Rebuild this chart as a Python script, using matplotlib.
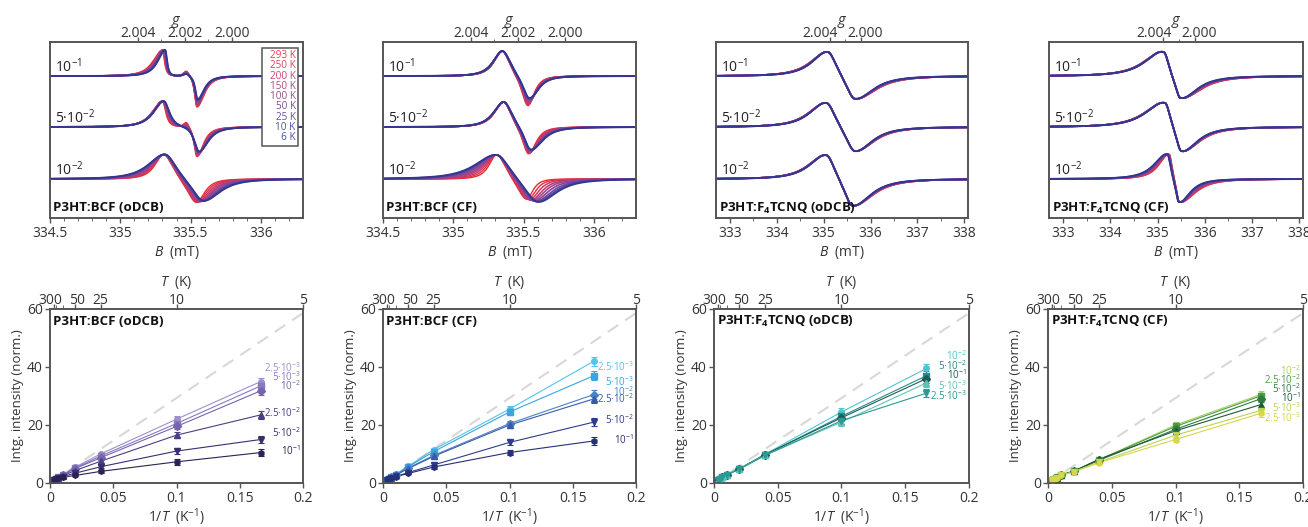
import numpy as np
import matplotlib
matplotlib.use('Agg')
import matplotlib.pyplot as plt
from matplotlib.patches import Rectangle
from matplotlib.transforms import ScaledTranslation

plt.rcParams['font.family'] = ['Open Sans', 'DejaVu Sans']
plt.rcParams['mathtext.fontset'] = 'custom'
plt.rcParams['mathtext.rm'] = 'Open Sans'
plt.rcParams['mathtext.it'] = 'Open Sans:italic'
plt.rcParams['mathtext.bf'] = 'Open Sans:bold'

# ---------------------------------------------------------------- data
temperatures_K = [293, 250, 200, 150, 100, 50, 25, 10, 6]
temp_labels = ['293 K', '250 K', '200 K', '150 K', '100 K', '50 K', '25 K', '10 K', '6 K']
# how far each temperature's spectrum sits between the 293 K and 6 K shapes
temp_mix = [0.0, 0.12, 0.25, 0.38, 0.5, 0.64, 0.78, 0.9, 1.0]
conc_top = ['10$^{-1}$', '5·10$^{-2}$', '10$^{-2}$']
titles = ['P3HT:BCF (oDCB)', 'P3HT:BCF (CF)',
          r'P3HT:F$_\mathbf{4}$TCNQ (oDCB)', r'P3HT:F$_\mathbf{4}$TCNQ (CF)']

# EPR lineshape parameters, rows: 10^-1, 5.10^-2, 10^-2
# [cP, wPL, wPR, aP, cN, wNL, wNR, aN, cM, wM, aM]  (field in mT)
bcf_odcb_293K = [[335.30, 0.10, 0.022, 1.0, 335.545, 0.025, 0.08, 1.20, 335.47, 0.03, 0.22],
                 [335.30, 0.11, 0.035, 1.0, 335.545, 0.030, 0.07, 1.15, 335.47, 0.03, 0.22],
                 [335.31, 0.095, 0.10, 1.0, 335.54, 0.10, 0.09, 0.96, 335.45, 0.03, 0.0]]
bcf_odcb_6K = [[335.32, 0.08, 0.020, 1.0, 335.55, 0.025, 0.07, 0.90, 335.47, 0.03, 0.10],
               [335.31, 0.11, 0.060, 1.0, 335.56, 0.050, 0.10, 0.95, 335.47, 0.03, 0.0],
               [335.32, 0.18, 0.12, 1.0, 335.59, 0.12, 0.18, 0.90, 335.45, 0.03, 0.0]]
bcf_cf_293K = [[335.35, 0.09, 0.08, 1.0, 335.53, 0.065, 0.07, 1.20, 335.45, 0.03, 0.0],
               [335.36, 0.10, 0.08, 1.0, 335.535, 0.065, 0.08, 1.10, 335.45, 0.03, 0.0],
               [335.31, 0.083, 0.10, 1.0, 335.52, 0.10, 0.07, 0.85, 335.45, 0.03, 0.0]]
bcf_cf_6K = [[335.35, 0.10, 0.09, 1.0, 335.54, 0.07, 0.10, 0.92, 335.45, 0.03, 0.0],
             [335.36, 0.11, 0.09, 1.0, 335.55, 0.07, 0.13, 0.94, 335.45, 0.03, 0.0],
             [335.31, 0.23, 0.14, 1.0, 335.60, 0.14, 0.20, 0.96, 335.45, 0.03, 0.0]]
f4_odcb_293K = [[335.09, 0.55, 0.27, 1.0, 335.66, 0.27, 0.68, 0.95, 335.4, 0.1, 0.0],
                [335.06, 0.57, 0.28, 1.0, 335.66, 0.28, 0.62, 1.00, 335.4, 0.1, 0.0],
                [335.06, 0.57, 0.26, 1.0, 335.61, 0.26, 0.66, 1.10, 335.4, 0.1, 0.0]]
f4_odcb_6K = [[335.09, 0.50, 0.27, 1.0, 335.66, 0.27, 0.58, 0.95, 335.4, 0.1, 0.0],
              [335.06, 0.53, 0.28, 1.0, 335.66, 0.28, 0.55, 1.00, 335.4, 0.1, 0.0],
              [335.06, 0.53, 0.26, 1.0, 335.61, 0.26, 0.58, 1.10, 335.4, 0.1, 0.0]]
f4_cf_293K = [[335.13, 0.62, 0.17, 1.0, 335.48, 0.17, 0.65, 0.92, 335.3, 0.1, 0.0],
              [335.16, 0.64, 0.16, 1.0, 335.50, 0.16, 0.58, 1.00, 335.3, 0.1, 0.0],
              [335.25, 0.32, 0.09, 1.0, 335.46, 0.09, 0.50, 0.94, 335.3, 0.1, 0.0]]
f4_cf_6K = [[335.13, 0.58, 0.17, 1.0, 335.48, 0.17, 0.52, 0.92, 335.3, 0.1, 0.0],
            [335.16, 0.60, 0.16, 1.0, 335.50, 0.16, 0.50, 1.00, 335.3, 0.1, 0.0],
            [335.21, 0.42, 0.10, 1.0, 335.45, 0.10, 0.35, 0.94, 335.3, 0.1, 0.0]]
g_constant = 671.59   # g * B (mT) at the spectrometer frequency

# integrated intensity (normalised to 293 K) vs T
bcf_odcb_series = ['2.5·10$^{-3}$', '5·10$^{-3}$', '10$^{-2}$', '2.5·10$^{-2}$', '5·10$^{-2}$', '10$^{-1}$']
bcf_odcb_vals = [[1, 1.17, 1.46, 1.93, 2.85, 5.5, 10.0, 22.0, 35.0],
                 [1, 1.16, 1.45, 1.90, 2.75, 5.2, 9.3, 20.5, 33.5],
                 [1, 1.16, 1.44, 1.88, 2.70, 5.0, 8.7, 19.5, 31.8],
                 [1, 1.15, 1.40, 1.80, 2.50, 4.3, 7.5, 16.5, 23.5],
                 [1, 1.13, 1.35, 1.70, 2.20, 3.4, 5.6, 11.0, 15.0],
                 [1, 1.12, 1.30, 1.60, 2.00, 2.6, 4.0, 7.3, 10.5]]
bcf_odcb_err = [0.1, 0.1, 0.1, 0.15, 0.2, 0.3, 0.5, 1.0, 1.3]

bcf_cf_series = ['2.5·10$^{-3}$', '5·10$^{-3}$', '10$^{-2}$', '2.5·10$^{-2}$', '5·10$^{-2}$', '10$^{-1}$']
bcf_cf_vals = [[1, 1.17, 1.47, 1.96, 2.95, 5.8, 11.5, 25.5, 42.0],
               [1, 1.17, 1.46, 1.95, 2.90, 5.6, 10.8, 24.5, 37.0],
               [1, 1.16, 1.44, 1.90, 2.75, 5.2, 9.5, 20.5, 30.5],
               [1, 1.16, 1.43, 1.88, 2.70, 5.0, 9.2, 20.0, 29.0],
               [1, 1.14, 1.36, 1.72, 2.30, 3.6, 6.2, 14.0, 21.0],
               [1, 1.13, 1.33, 1.65, 2.15, 3.3, 5.5, 10.5, 14.5]]
bcf_cf_err = [0.1, 0.1, 0.1, 0.15, 0.2, 0.3, 0.6, 1.0, 1.5]

f4_odcb_series = ['10$^{-2}$', '5·10$^{-2}$', '10$^{-1}$', '5·10$^{-3}$', '2.5·10$^{-3}$']
f4_odcb_vals = [[1, 1.17, 1.47, 1.95, 2.90, 5.0, 9.9, 24.5, 39.5],
                [1, 1.17, 1.46, 1.94, 2.85, 4.9, 9.7, 23.0, 37.0],
                [1, 1.17, 1.46, 1.94, 2.85, 4.9, 9.8, 22.5, 36.0],
                [1, 1.17, 1.46, 1.93, 2.85, 4.9, 9.6, 21.0, 34.5],
                [1, 1.16, 1.45, 1.92, 2.80, 4.8, 9.5, 21.5, 31.0]]
f4_odcb_err = [0.1, 0.1, 0.1, 0.15, 0.2, 0.3, 0.5, 1.2, 1.5]

f4_cf_series = ['10$^{-2}$', '2.5·10$^{-2}$', '5·10$^{-2}$', '10$^{-1}$', '5·10$^{-3}$', '2.5·10$^{-3}$']
f4_cf_vals = [[1, 1.16, 1.45, 1.90, 2.75, 4.1, 8.0, 20.0, 30.5],
              [1, 1.16, 1.45, 1.90, 2.75, 4.1, 8.0, 19.5, 30.0],
              [1, 1.16, 1.44, 1.88, 2.70, 4.0, 7.8, 18.5, 29.0],
              [1, 1.16, 1.44, 1.88, 2.70, 4.0, 8.2, 18.0, 27.0],
              [1, 1.15, 1.42, 1.85, 2.60, 3.9, 7.2, 16.5, 25.0],
              [1, 1.15, 1.42, 1.85, 2.60, 3.8, 7.0, 15.0, 24.0]]
f4_cf_err = [0.1, 0.1, 0.1, 0.15, 0.2, 0.3, 0.5, 1.0, 1.2]

curie_x = [0.0, 0.2]
curie_y = [0.0, 58.6]
T_ticks = [300, 50, 25, 10, 5]
T_minor = [200, 100]

# ---------------------------------------------------------------- styles
temp_colors = ['#ee2a2e', '#e2304a', '#d23560', '#bd3b75', '#a54186',
               '#8a4592', '#6d479c', '#5244a0', '#34358f']
legend_colors = ['#e8404e', '#dc4660', '#c84670', '#b04c80', '#955088',
                 '#7c5290', '#665398', '#52539e', '#4650a8']
bcf_odcb_colors = ['#9d8fcc', '#8a78c0', '#7864ae', '#4e3d84', '#3a2f6e', '#2a2254']
bcf_cf_colors = ['#55c3ee', '#3aa6e0', '#4a82c6', '#3a5aa8', '#2e3c90', '#263078']
f4_odcb_colors = ['#4cc6d2', '#2a8a88', '#1d5c5c', '#5fc4b6', '#2a9a92']
f4_cf_colors = ['#a9d060', '#4f9c44', '#2e7c3e', '#1c5a3c', '#bdd24a', '#d8d64a']
markers = ['o', 's', 'D', '^', 'v', 'h']
spine_col = '#555555'
text_col = '#333333'

fig = plt.figure(figsize=(13.08, 5.27), dpi=100)
W, H = 1308.0, 527.0


def axes_px(x0, x1, ytop, ybot):
    return fig.add_axes([x0 / W, 1 - ybot / H, (x1 - x0) / W, (ybot - ytop) / H])


def shape(d, wl, wr):
    w = np.where(d < 0, wl, wr)
    return (1.0 + (d / w) ** 2) ** -1.5


def spectrum(B, p):
    cP, wPL, wPR, aP, cN, wNL, wNR, aN, cM, wM, aM = p
    return aP * shape(B - cP, wPL, wPR) - aN * shape(B - cN, wNL, wNR) + aM * shape(B - cM, wM, wM)


def style_spines(ax):
    for s in ax.spines.values():
        s.set_color(spine_col)
        s.set_linewidth(1.2)
    ax.tick_params(colors=spine_col, labelcolor=text_col, width=1.0, length=3.5,
                   pad=1.5, labelsize=10)


def shift_labels(labels, dx_pts):
    for lab, dx in zip(labels, dx_pts):
        if dx:
            lab.set_transform(lab.get_transform() +
                              ScaledTranslation(dx / 72.0, 0, fig.dpi_scale_trans))


top_pos = [(50, 303), (383, 636), (716, 968), (1049, 1303)]
top_xlims = [(334.5, 336.3), (334.5, 336.3), (332.7, 338.08), (332.7, 338.08)]
hot_sets = [bcf_odcb_293K, bcf_cf_293K, f4_odcb_293K, f4_cf_293K]
cold_sets = [bcf_odcb_6K, bcf_cf_6K, f4_odcb_6K, f4_cf_6K]
offsets = [5.46, 3.5, 1.5]
label_fy = [0.858, 0.568, 0.273]

for i in range(4):
    ax = axes_px(top_pos[i][0], top_pos[i][1], 42, 218)
    x0, x1 = top_xlims[i]
    B = np.linspace(x0, x1, 2000)
    for r in range(3):
        hot = np.array(hot_sets[i][r])
        cold = np.array(cold_sets[i][r])
        for k, f in enumerate(temp_mix):
            p = (1 - f) * hot + f * cold
            ax.plot(B, offsets[r] + spectrum(B, p), color=temp_colors[k],
                    lw=1.0 + 0.35 * f, zorder=2 + k * 0.01, solid_capstyle='round')
        ax.text(0.02, label_fy[r], conc_top[r], transform=ax.transAxes, fontsize=10,
                color='#222222', va='center', ha='left')
    ax.set_xlim(x0, x1)
    ax.set_ylim(0, 6.77)
    ax.set_yticks([])
    style_spines(ax)
    ax.tick_params(axis='x', pad=2.5)
    ax.tick_params(axis='x', which='minor', length=2, color=spine_col)
    if i < 2:
        ax.set_xticks([334.5, 335, 335.5, 336])
        ax.set_xticklabels(['334.5', '335', '335.5', '336'])
        ax.set_xticks(np.arange(334.6, 336.3, 0.1), minor=True)
        g_major = [2.004, 2.002, 2.000]
        g_minor = [2.003, 2.001]
        g_shift = [0, 0, 0]
    else:
        ax.set_xticks([333, 334, 335, 336, 337, 338])
        ax.set_xticks([333.5, 334.5, 335.5, 336.5, 337.5], minor=True)
        g_major = [2.004, 2.000]
        g_minor = [2.002]
        g_shift = [-7, 3]
    ax.set_xlabel('$B$  (mT)', fontsize=10, color=text_col, labelpad=2)
    ax.text(0.012, 0.057, titles[i], transform=ax.transAxes, fontsize=9.5,
            fontweight='bold', color='#111111', va='center', ha='left')
    ax2 = ax.twiny()
    ax2.set_xlim(x0, x1)
    ax2.set_xticks([g_constant / g for g in g_major])
    ax2.set_xticklabels(['%.3f' % g for g in g_major])
    ax2.set_xticks([g_constant / g for g in g_minor], minor=True)
    style_spines(ax2)
    ax2.tick_params(axis='x', pad=-3.0)
    ax2.tick_params(axis='x', which='minor', length=2, color=spine_col)
    ax2.set_xlabel('$g$', fontsize=10.5, color=text_col, labelpad=1.5)
    shift_labels(ax2.get_xticklabels(), g_shift)
    if i == 0:
        bx0, bx1, by0, by1 = 0.838, 0.980, 0.409, 0.966
        ax.add_patch(Rectangle((bx0, by0), bx1 - bx0, by1 - by0, transform=ax.transAxes,
                               facecolor='white', edgecolor=spine_col, lw=1.1, zorder=10))
        for k, lab in enumerate(temp_labels):
            ax.text(0.971, 0.922 - k * 0.0582, lab, transform=ax.transAxes, fontsize=7.2,
                    color=legend_colors[k], ha='right', va='center', zorder=11)

# ---------------------------------------------------------------- bottom row
bot_pos = [(50, 303), (383, 636), (714, 969), (1048, 1303)]
bot_vals = [bcf_odcb_vals, bcf_cf_vals, f4_odcb_vals, f4_cf_vals]
bot_err = [bcf_odcb_err, bcf_cf_err, f4_odcb_err, f4_cf_err]
bot_names = [bcf_odcb_series, bcf_cf_series, f4_odcb_series, f4_cf_series]
bot_colors = [bcf_odcb_colors, bcf_cf_colors, f4_odcb_colors, f4_cf_colors]
bot_label_y = [[39.5, 36.6, 33.4, 24.0, 17.3, 11.1],
               [39.9, 34.9, 31.5, 28.9, 21.7, 14.8],
               [43.6, 40.3, 37.2, 33.4, 30.0],
               [38.6, 35.5, 32.3, 29.2, 25.8, 22.5]]
inv_T = [1.0 / t for t in temperatures_K]

for i in range(4):
    ax = axes_px(bot_pos[i][0], bot_pos[i][1], 309, 483)
    ax.plot(curie_x, curie_y, color='#d8d8d8', lw=1.5, dashes=(6, 4), zorder=1)
    for s, vals in enumerate(bot_vals[i]):
        c = bot_colors[i][s]
        ax.plot(inv_T, vals, color=c, lw=0.8, zorder=2)
        ax.errorbar(inv_T, vals, yerr=bot_err[i], fmt=markers[s], ms=4, color=c,
                    ecolor=c, elinewidth=0.8, capsize=2, capthick=0.8, lw=0, zorder=3)
        ax.text(0.198, bot_label_y[i][s], bot_names[i][s], fontsize=7.0, color=c,
                ha='right', va='center', zorder=4)
    ax.set_xlim(0, 0.2)
    ax.set_ylim(0, 60)
    ax.set_xticks([0, 0.05, 0.1, 0.15, 0.2])
    ax.set_xticklabels(['0', '0.05', '0.1', '0.15', '0.2'])
    ax.set_yticks([0, 20, 40, 60])
    style_spines(ax)
    ax.tick_params(axis='x', pad=2.5)
    ax.set_xlabel('1/$T$  (K$^{-1}$)', fontsize=10, color=text_col, labelpad=0)
    ax.set_ylabel('Intg. intensity (norm.)', fontsize=9.5, color=text_col, labelpad=2)
    ax.text(0.013, 0.927, titles[i], transform=ax.transAxes, fontsize=9.5,
            fontweight='bold', color='#111111', va='center', ha='left')
    ax2 = ax.twiny()
    ax2.set_xlim(0, 0.2)
    ax2.set_xticks([1.0 / t for t in T_ticks])
    ax2.set_xticklabels([str(t) for t in T_ticks])
    ax2.set_xticks([1.0 / t for t in T_minor], minor=True)
    style_spines(ax2)
    ax2.tick_params(axis='x', pad=-2.5)
    ax2.tick_params(axis='x', which='minor', length=3, color=spine_col)
    ax2.set_xlabel('$T$  (K)', fontsize=10, color=text_col, labelpad=5)
    shift_labels(ax2.get_xticklabels(), [-2.5, 1, 0, 0, 0])

fig.savefig('out.png', dpi=100)
